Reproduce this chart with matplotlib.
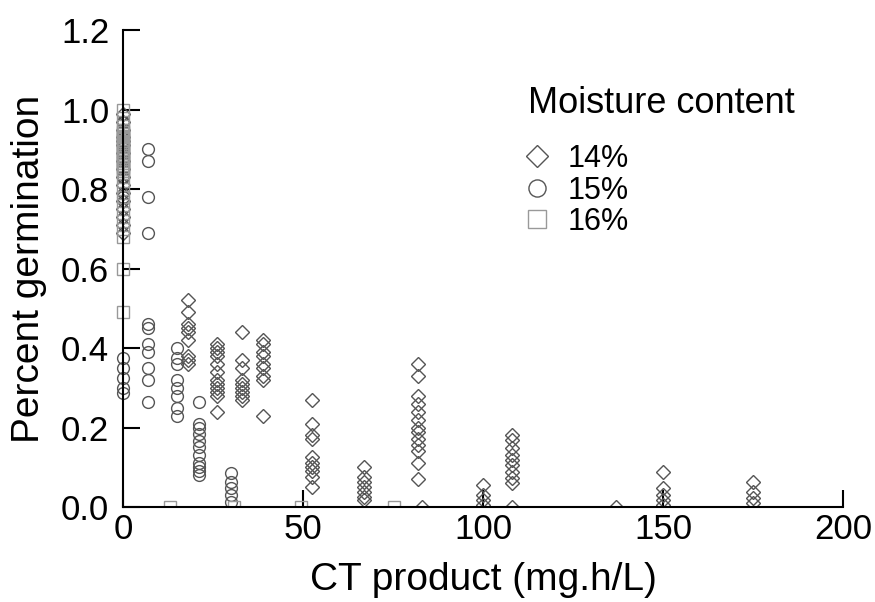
import numpy as np
import matplotlib.pyplot as plt
from matplotlib.patches import Rectangle

plt.rcParams["font.family"] = ["Liberation Sans", "DejaVu Sans"]

# CT product columns and germination values
ct14 = [0, 18, 26, 33, 39, 52.5, 67, 82, 83, 100, 108, 137, 150, 175]
germ14 = [
    [0.99, 0.97, 0.95, 0.93, 0.92, 0.91, 0.89, 0.87, 0.85, 0.83, 0.81, 0.79,
     0.77, 0.75, 0.73, 0.71, 0.69],
    [0.52, 0.49, 0.46, 0.45, 0.44, 0.42, 0.38, 0.37, 0.36],
    [0.41, 0.40, 0.39, 0.38, 0.36, 0.34, 0.32, 0.31, 0.30, 0.29, 0.28, 0.24],
    [0.44, 0.37, 0.35, 0.32, 0.31, 0.30, 0.29, 0.28, 0.27],
    [0.42, 0.41, 0.39, 0.38, 0.36, 0.35, 0.33, 0.32, 0.23],
    [0.27, 0.21, 0.18, 0.17, 0.125, 0.11, 0.10, 0.09, 0.075, 0.05],
    [0.10, 0.075, 0.063, 0.05, 0.038, 0.025, 0.018],
    [0.36, 0.33, 0.28, 0.26, 0.24, 0.22, 0.20, 0.19, 0.17, 0.155, 0.14, 0.11, 0.07],
    [0.0],
    [0.055, 0.03, 0.018, 0.005],
    [0.18, 0.168, 0.148, 0.13, 0.118, 0.105, 0.088, 0.073, 0.06, 0.0],
    [0.0],
    [0.088, 0.048, 0.03, 0.018, 0.005],
    [0.063, 0.038, 0.023, 0.01],
]

ct15 = [0, 7, 15, 21, 30]
germ15 = [
    [0.97, 0.92, 0.88, 0.83, 0.78, 0.375, 0.35, 0.325, 0.30, 0.287],
    [0.90, 0.87, 0.78, 0.69, 0.46, 0.45, 0.41, 0.39, 0.35, 0.32, 0.265],
    [0.40, 0.375, 0.36, 0.32, 0.30, 0.28, 0.25, 0.23],
    [0.265, 0.21, 0.20, 0.185, 0.165, 0.15, 0.13, 0.11, 0.10, 0.09, 0.08],
    [0.085, 0.063, 0.048, 0.03, 0.013],
]

ct16 = [0, 13, 30.8, 49.4, 75.3]
germ16 = [
    [1.0, 0.98, 0.96, 0.95, 0.945, 0.94, 0.935, 0.93, 0.925, 0.92, 0.915,
     0.91, 0.905, 0.90, 0.895, 0.89, 0.885, 0.88, 0.875, 0.87, 0.865, 0.86,
     0.855, 0.85, 0.845, 0.84, 0.82, 0.80, 0.78, 0.76, 0.74, 0.72, 0.70,
     0.68, 0.60, 0.49],
    [0.0],
    [0.0],
    [0.0],
    [0.0],
]


def expand(cols, vals):
    xs = np.concatenate([[c] * len(v) for c, v in zip(cols, vals)])
    ys = np.concatenate(vals)
    return xs, ys


fig = plt.figure(figsize=(8.75, 6.02), dpi=100)
ax = fig.add_axes([0.1406, 0.1578, 0.823, 0.792])

# clip at the bottom axis but let markers spill left of the y axis
clip = Rectangle((-0.05, 0), 1.1, 1.1, transform=ax.transAxes)

series = [
    (ct14, germ14, "D", 7.5, "#555555", "14%"),
    (ct15, germ15, "o", 8.5, "#555555", "15%"),
    (ct16, germ16, "s", 9.0, "#999999", "16%"),
]
for cols, vals, mk, ms, col, lab in series:
    x, y = expand(cols, vals)
    ln, = ax.plot(x, y, linestyle="none", marker=mk, markersize=ms,
                  markerfacecolor="none", markeredgecolor=col,
                  markeredgewidth=1.0, label=lab)
    ln.set_clip_path(clip)

ax.set_xlim(0, 200)
ax.set_ylim(0, 1.2)
ax.set_xticks([0, 50, 100, 150, 200])
ax.set_yticks(np.arange(0, 1.21, 0.2))
ax.set_yticklabels([f"{v:.1f}" for v in np.arange(0, 1.21, 0.2)])
ax.tick_params(direction="in", length=12, width=1.5, labelsize=25)
ax.tick_params(axis="y", pad=10)
ax.tick_params(axis="x", pad=4)
for s in ["top", "right"]:
    ax.spines[s].set_visible(False)
for s in ["left", "bottom"]:
    ax.spines[s].set_linewidth(1.5)

ax.set_xlabel("CT product (mg.h/L)", fontsize=28, labelpad=12)
ax.set_ylabel("Percent germination", fontsize=28, labelpad=10)

leg = ax.legend(title="Moisture content", loc="upper left",
                bbox_to_anchor=(0.5625, 0.884), frameon=False, fontsize=22,
                title_fontsize=26, markerscale=1.45, handletextpad=0.7,
                handlelength=0.6, labelspacing=0.05, borderpad=0,
                borderaxespad=0)
leg._legend_box.align = "left"
leg._legend_box.sep = 17

fig.savefig("out.png", dpi=100)
